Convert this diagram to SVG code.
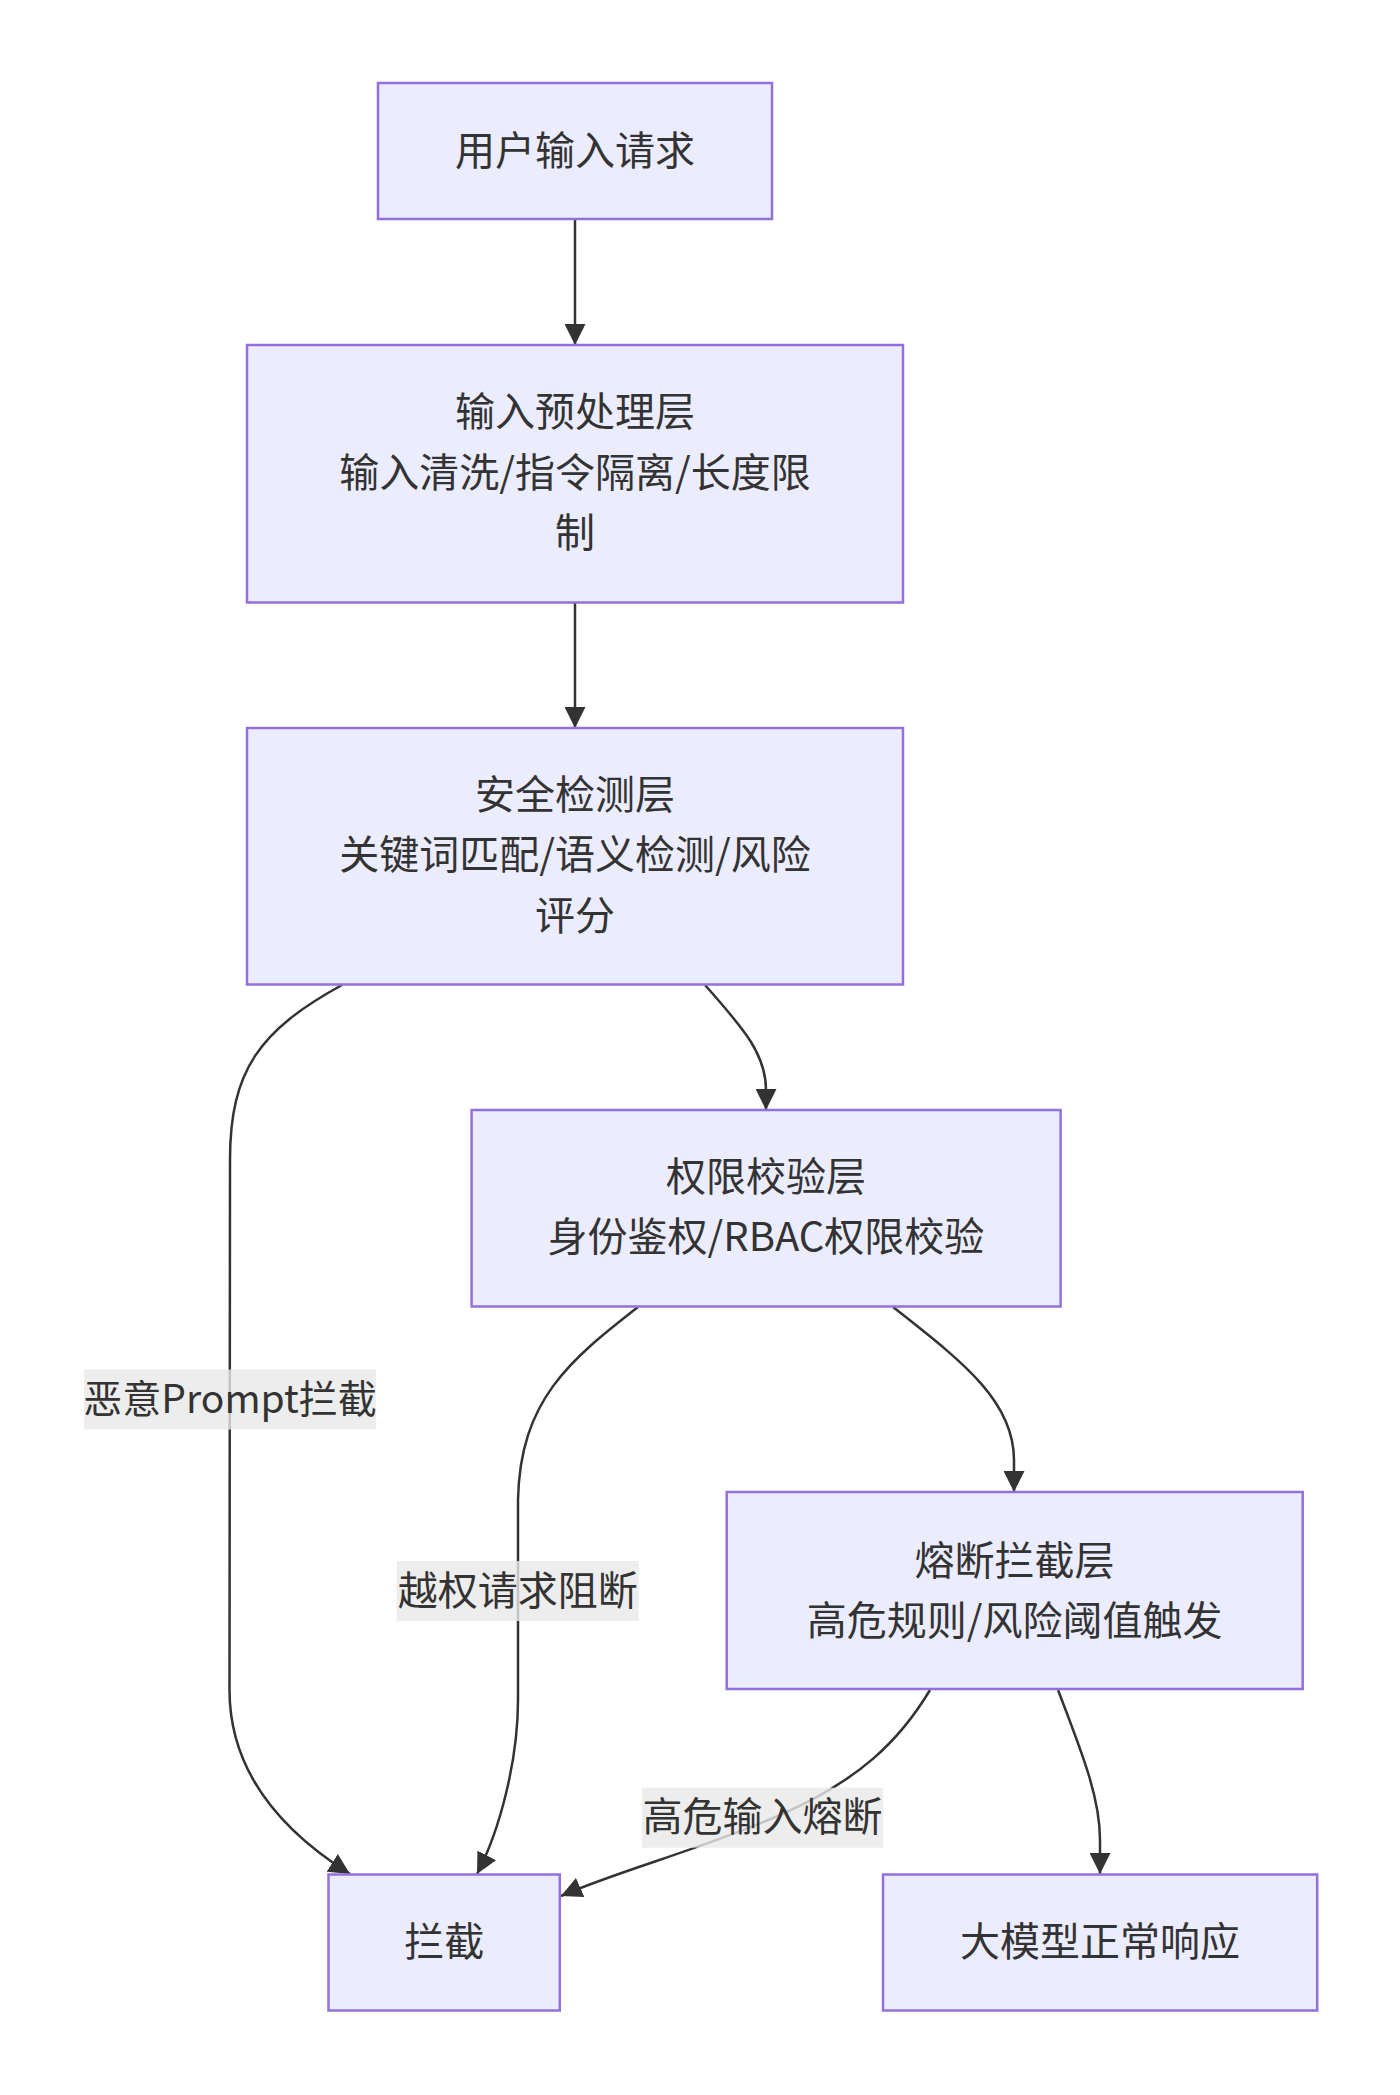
<svg xmlns="http://www.w3.org/2000/svg" width="1400" height="2095" viewBox="0 0 1400 2095">
  <style>
    .node rect { fill: #ECECFF; stroke: #9370DB; stroke-width: 2.5; }
    .node text, .elabel text { font-family: "Noto Sans CJK SC", "Noto Sans", sans-serif; font-size: 40px; fill: #333333; text-anchor: middle; dominant-baseline: central; }
    .elabel text.mixed { font-size: 39px; }
    .edge { fill: none; stroke: #333333; stroke-width: 2.5; marker-end: url(#arrow); }
    .elabel rect { fill: rgba(232,232,232,0.8); }
  </style>
  <defs>
    <marker id="arrow" viewBox="0 0 10 10" refX="10" refY="5" markerWidth="21" markerHeight="21" markerUnits="userSpaceOnUse" orient="auto">
      <path d="M0,0 L10,5 L0,10 z" fill="#333333"/>
    </marker>
  </defs>
  <rect width="1400" height="2095" fill="#ffffff"/>

  <g id="connectors">
    <path class="edge" d="M575,219 L575,345"/>
    <path class="edge" d="M575,602.5 L575,728"/>
    <path class="edge" d="M342,985 C260,1030 230,1070 230,1160 L229.5,1690 C229.5,1770 280,1830 350,1874"/>
    <path class="edge" d="M705,985 C745,1030 766,1055 766,1090 L766,1110"/>
    <path class="edge" d="M638,1307 C570,1360 520,1400 518,1500 L518,1700 C518,1760 500,1830 477,1874"/>
    <path class="edge" d="M893,1307 C960,1360 1014,1400 1014,1460 L1014,1492"/>
    <path class="edge" d="M930,1690 C900,1740 860,1780 780,1815 C700,1850 620,1870 561,1896"/>
    <path class="edge" d="M1058,1690 C1085,1760 1100,1800 1100,1840 L1100,1874"/>
  </g>

  <g id="edge-labels">
    <g class="elabel" id="label-malicious">
      <rect x="84" y="1369.5" width="292" height="60"/>
      <text class="mixed" x="230" y="1396">恶意Prompt拦截</text>
    </g>
    <g class="elabel" id="label-privilege">
      <rect x="396.7" y="1561" width="242" height="60"/>
      <text x="517.7" y="1587.5">越权请求阻断</text>
    </g>
    <g class="elabel" id="label-fuse">
      <rect x="642" y="1787.7" width="241.2" height="60"/>
      <text x="762.6" y="1814.2">高危输入熔断</text>
    </g>
  </g>

  <g class="node" id="node-user-input">
    <rect x="378" y="83" width="394" height="136"/>
    <text x="575" y="147.5">用户输入请求</text>
  </g>
  <g class="node" id="node-preprocess">
    <rect x="247" y="345" width="656" height="257.5"/>
    <text x="575" y="409">输入预处理层</text>
    <text x="575" y="469.5">输入清洗/指令隔离/长度限</text>
    <text x="575" y="530">制</text>
  </g>
  <g class="node" id="node-detect">
    <rect x="247" y="728" width="656" height="256.5"/>
    <text x="575" y="791.5">安全检测层</text>
    <text x="575" y="852">关键词匹配/语义检测/风险</text>
    <text x="575" y="912.5">评分</text>
  </g>
  <g class="node" id="node-auth">
    <rect x="471.6" y="1110" width="589" height="196.5"/>
    <text x="766" y="1174">权限校验层</text>
    <text x="766" y="1234">身份鉴权/RBAC权限校验</text>
  </g>
  <g class="node" id="node-fuse">
    <rect x="726.7" y="1492" width="576" height="197"/>
    <text x="1014.6" y="1557.5">熔断拦截层</text>
    <text x="1014.6" y="1617.5">高危规则/风险阈值触发</text>
  </g>
  <g class="node" id="node-block">
    <rect x="328.5" y="1874.5" width="231.3" height="136"/>
    <text x="444.2" y="1939">拦截</text>
  </g>
  <g class="node" id="node-llm">
    <rect x="883" y="1874.5" width="434.2" height="136"/>
    <text x="1100.1" y="1939">大模型正常响应</text>
  </g>
</svg>
